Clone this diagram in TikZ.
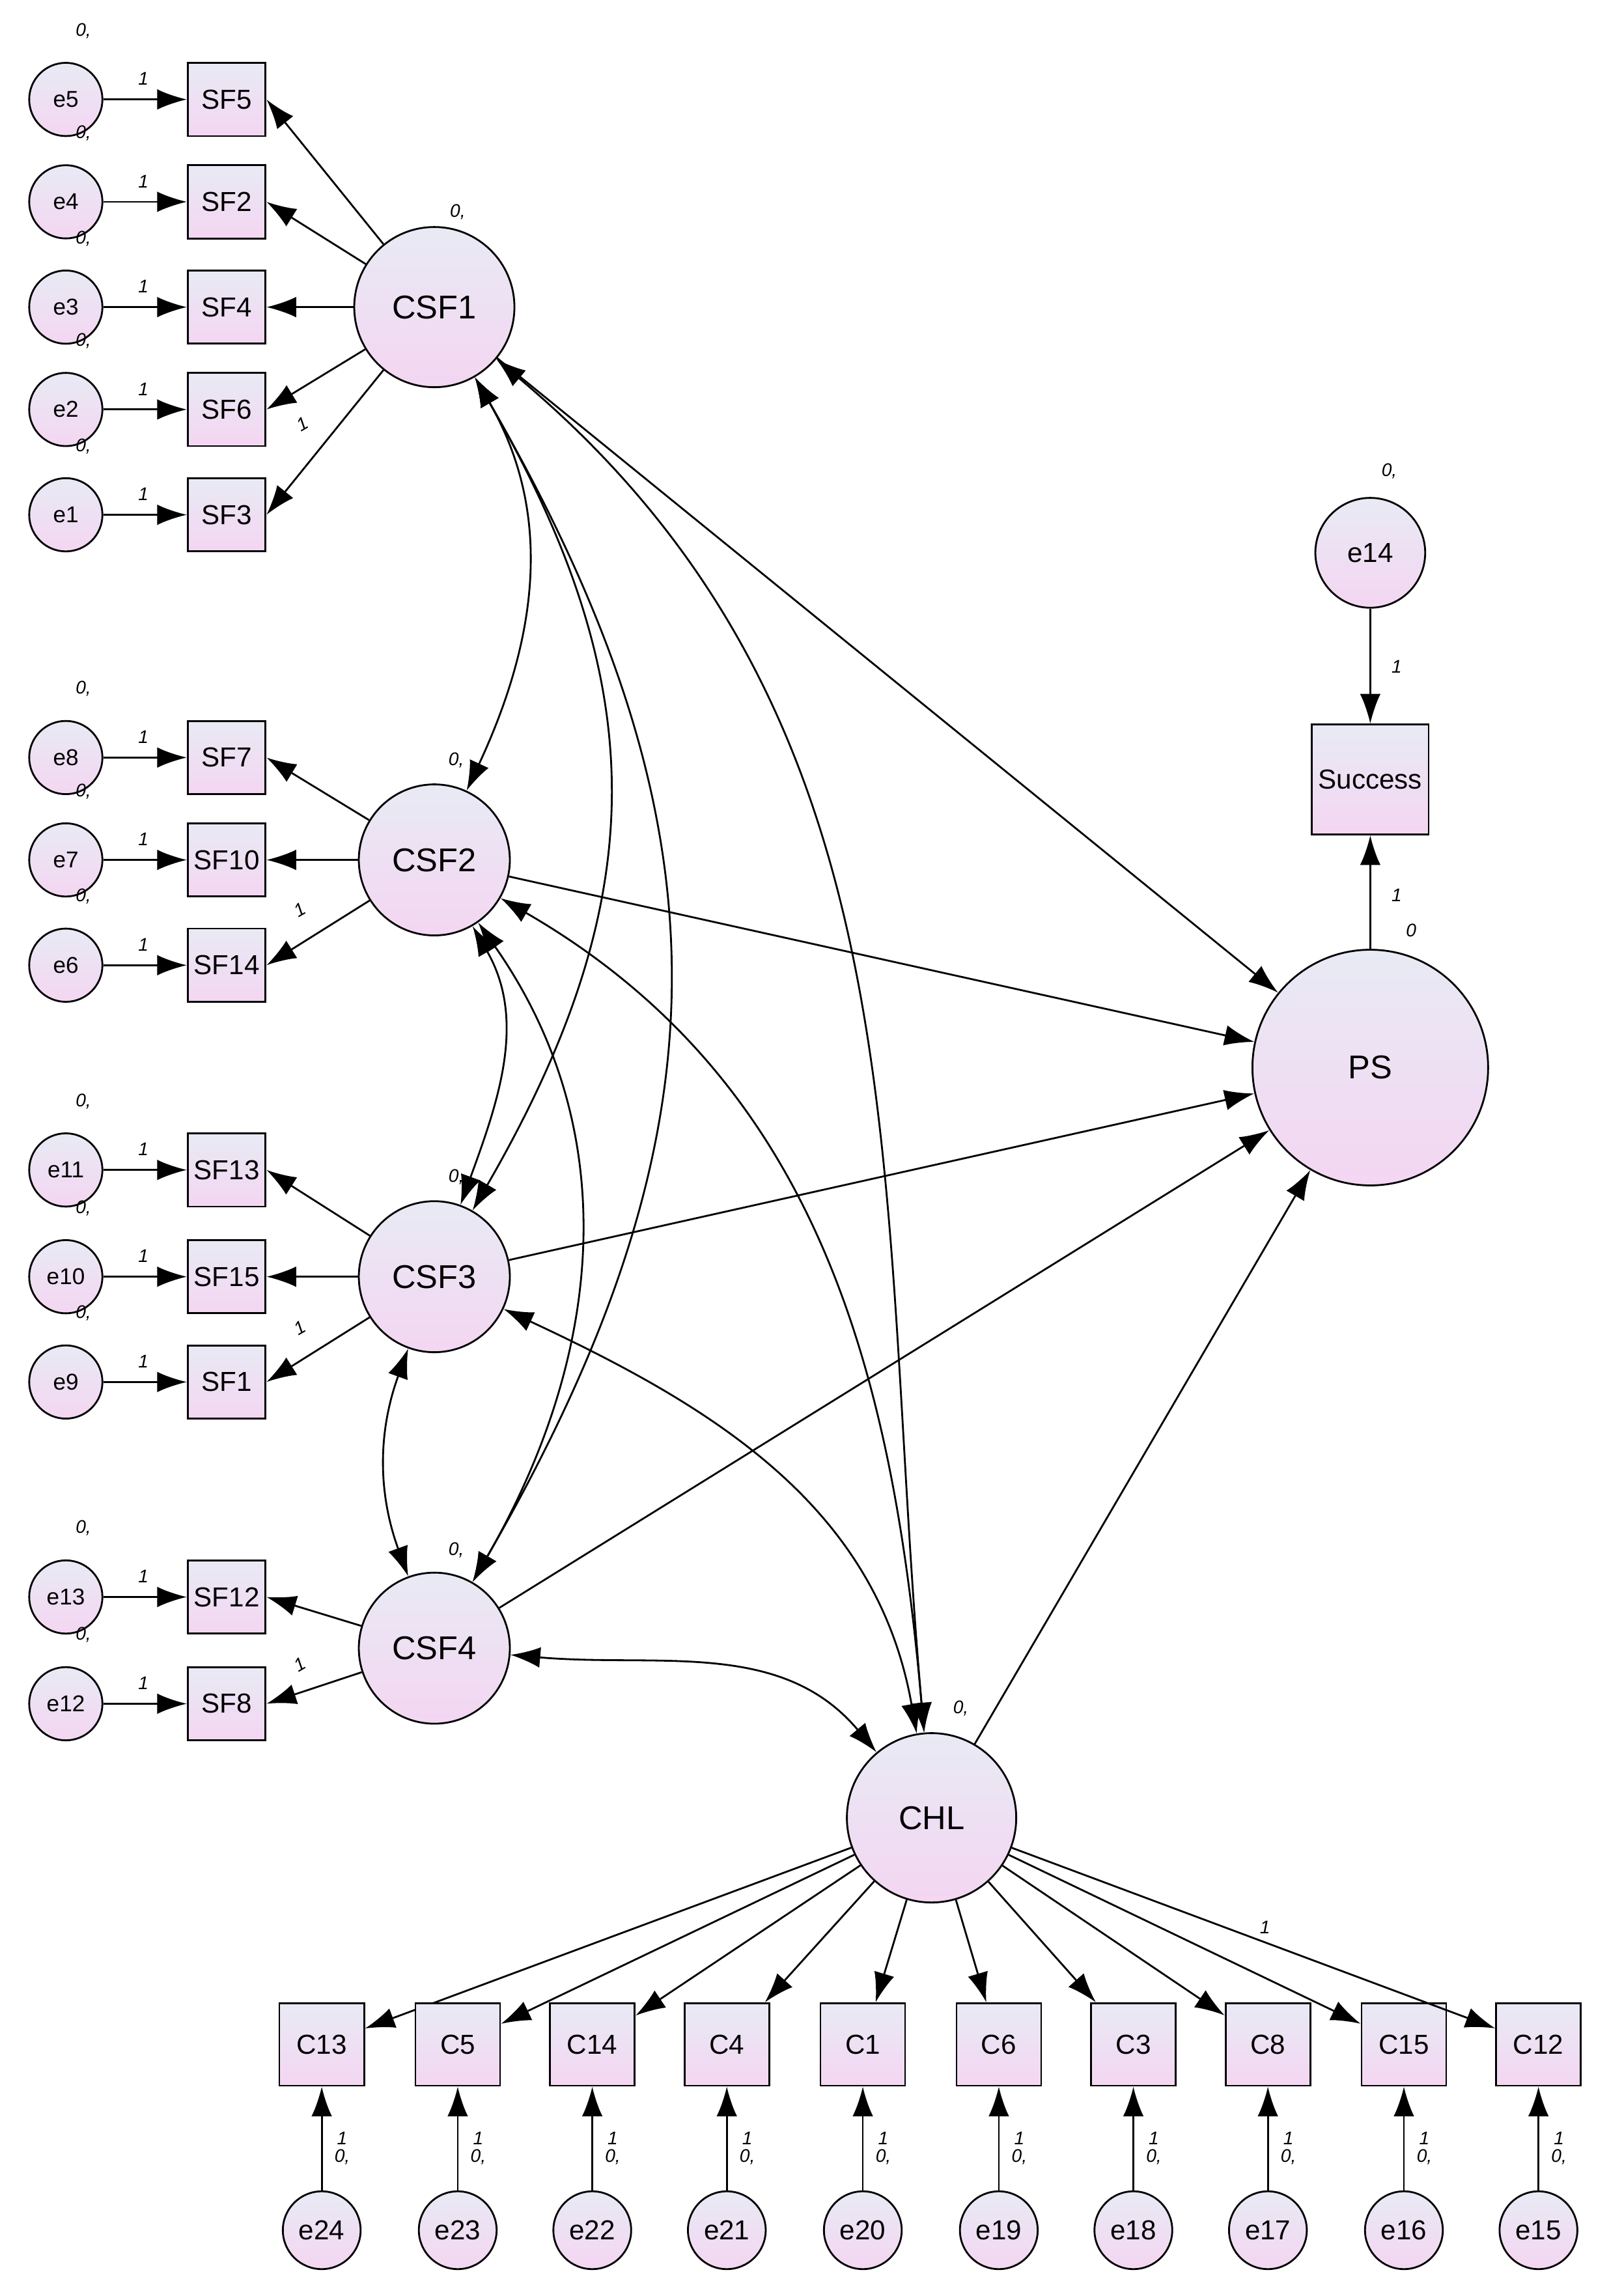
\documentclass[tikz,border=0pt]{standalone}
\usepackage{fontspec}
\setmainfont{Liberation Sans}
\usetikzlibrary{arrows.meta}
\begin{document}
\begin{tikzpicture}[x=0.02246cm,y=-0.02246cm,
 lat/.style={circle,draw,thick,top color={rgb,255:red,232;green,234;blue,244},bottom color={rgb,255:red,244;green,214;blue,242},font=\Large,inner sep=0},
 err/.style={lat,minimum size=32pt,font=\normalsize},
 obs/.style={rectangle,draw,thick,top color={rgb,255:red,232;green,234;blue,244},bottom color={rgb,255:red,244;green,214;blue,242},minimum width=34pt,minimum height=32pt,font=\large,inner sep=0},
 ar/.style={-{Latex[length=13pt,width=9pt]},thick},
 dar/.style={{Latex[length=13pt,width=9pt]}-{Latex[length=13pt,width=9pt]},thick},
 sm/.style={font=\footnotesize\itshape,inner sep=0}]
\useasboundingbox (0,0) rectangle (1100,1570);
% left side
\foreach \e/\s/\y in {e5/SF5/68,e4/SF2/138,e3/SF4/210,e2/SF6/280,e1/SF3/352,e8/SF7/518,e7/SF10/588,e6/SF14/660,e11/SF13/800,e10/SF15/873,e9/SF1/945,e13/SF12/1092,e12/SF8/1165}{
 \node[err] (\e) at (45,\y) {\e};
 \node[obs] (\s) at (155,\y) {\s};
 \draw[ar] (\e) -- (\s);
 \node[sm] at (57,\y-47) {0,};
 \node[sm] at (98,\y-14) {1};
}
\node[lat,minimum size=70pt] (CSF1) at (297,210) {CSF1};
\node[lat,minimum size=66pt] (CSF2) at (297,588) {CSF2};
\node[lat,minimum size=66pt] (CSF3) at (297,873) {CSF3};
\node[lat,minimum size=66pt] (CSF4) at (297,1127) {CSF4};
\foreach \c/\xx/\yy in {CSF1/313/145,CSF2/312/520,CSF3/312/805,CSF4/312/1060}{\node[sm] at (\xx,\yy) {0,};}
\foreach \s in {SF5,SF2,SF4,SF6,SF3}{\draw[ar] (CSF1) -- (\s.east);}
\foreach \s in {SF7,SF10,SF14}{\draw[ar] (CSF2) -- (\s.east);}
\foreach \s in {SF13,SF15,SF1}{\draw[ar] (CSF3) -- (\s.east);}
\foreach \s in {SF12,SF8}{\draw[ar] (CSF4) -- (\s.east);}
\node[sm,rotate=30] at (207,290) {1};
\node[sm,rotate=30] at (205,622) {1};
\node[sm,rotate=30] at (205,908) {1};
\node[sm,rotate=30] at (205,1138) {1};
% right
\node[err,minimum size=48pt,font=\large] (e14) at (937,378) {e14};
\node[obs,minimum width=51pt,minimum height=48pt] (Success) at (937,533) {Success};
\node[lat,minimum size=103pt] (PS) at (937,730) {PS};
\node[lat,minimum size=74pt] (CHL) at (637,1243) {CHL};
\draw[ar] (e14) -- (Success);
\draw[ar] (PS) -- (Success);
\node[sm] at (950,322) {0,};
\node[sm] at (955,456) {1};
\node[sm] at (955,612) {1};
\node[sm] at (965,636) {0};
\node[sm] at (657,1168) {0,};
\foreach \c in {CSF1,CSF2,CSF3,CSF4,CHL}{\draw[ar] (\c) -- (PS);}
% covariances
\draw[dar] (CSF1) to[out=-60,in=65] (CSF2);
\draw[dar] (CSF1) to[out=-60,in=60,looseness=1.1] (CSF3);
\draw[dar] (CSF1) to[out=-60,in=60,looseness=1.1] (CSF4);
\draw[dar] (CSF1) to[out=-40,in=95] (CHL);
\draw[dar] (CSF2) to[out=-60,in=70] (CSF3);
\draw[dar] (CSF2) to[out=-55,in=60] (CSF4);
\draw[dar] (CSF2) to[out=-30,in=95] (CHL);
\draw[dar] (CSF3) to[out=-110,in=110] (CSF4);
\draw[dar] (CSF3) to[out=-25,in=100] (CHL);
\draw[dar] (CSF4) to[out=-5,in=130] (CHL);
% bottom
\foreach \c/\e/\x in {C13/e24/220,C5/e23/313,C14/e22/405,C4/e21/497,C1/e20/590,C6/e19/683,C3/e18/775,C8/e17/867,C15/e16/960,C12/e15/1052}{
 \node[obs,minimum width=37pt,minimum height=36pt] (\c) at (\x,1398) {\c};
 \node[err,minimum size=34pt,font=\large] (\e) at (\x,1525) {\e};
 \draw[ar] (\e) -- (\c);
 \draw[ar] (CHL) -- (\c);
 \node[sm] at (\x+14,1475) {0,};
 \node[sm] at (\x+14,1462) {1};
}
\node[sm] at (865,1318) {1};
\end{tikzpicture}
\end{document}
